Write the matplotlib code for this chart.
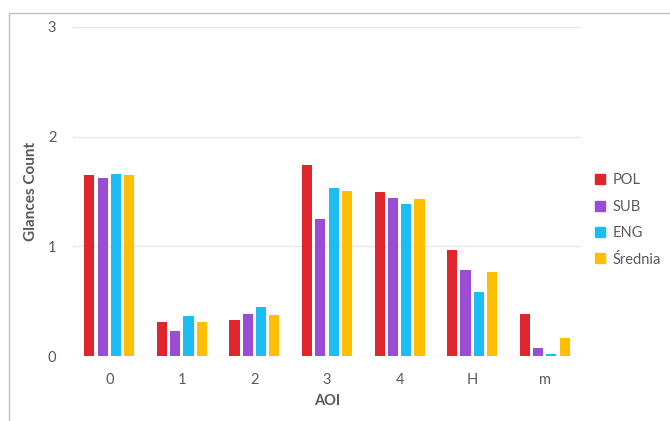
import matplotlib
matplotlib.use("Agg")
import matplotlib.pyplot as plt
import numpy as np
from matplotlib.lines import Line2D
from matplotlib.patches import Rectangle

plt.rcParams['font.family'] = ['Lato', 'DejaVu Sans']

# Glance counts per area of interest
categories = ["0", "1", "2", "3", "4", "H", "m"]
pol = [1.65, 0.31, 0.325, 1.74, 1.495, 0.97, 0.386]
sub = [1.625, 0.225, 0.38, 1.246, 1.437, 0.78, 0.076]
eng = [1.66, 0.365, 0.45, 1.535, 1.39, 0.583, 0.02]
srednia = [1.647, 0.307, 0.377, 1.507, 1.434, 0.77, 0.167]

series_names = ["POL", "SUB", "ENG", "Średnia"]
series_values = [pol, sub, eng, srednia]
colors = ["#E0252C", "#9A4DD3", "#1BBDF4", "#FFBE00"]
y_ticks = [0, 1, 2, 3]

text_color = "#595959"

fig = plt.figure(figsize=(6.7, 4.21), dpi=100)
ax = fig.add_axes([73 / 670, 1 - 356 / 421, (581 - 73) / 670, (356 - 27) / 421])

x = np.arange(len(categories))
pitch = 0.183
width = 0.14
for j, (name, vals, col) in enumerate(zip(series_names, series_values, colors)):
    ax.bar(x + (j - 1.5) * pitch, vals, width=width, color=col, label=name, zorder=3)

ax.set_xlim(-0.5, len(categories) - 0.5)
ax.set_ylim(0, 3)
ax.set_yticks(y_ticks)
ax.set_yticklabels([str(t) for t in y_ticks])
ax.set_xticks(x)
ax.set_xticklabels(categories)
ax.grid(axis="y", color="#E6E6E6", linewidth=1, zorder=0)
for s in ax.spines.values():
    s.set_visible(False)
ax.tick_params(axis="both", length=0, colors=text_color, labelsize=10.5)
ax.tick_params(axis="y", pad=12)
ax.tick_params(axis="x", pad=12)

ax.set_xlabel("AOI", fontsize=10.5, fontweight="bold", color=text_color, labelpad=5)
ax.set_ylabel("Glances Count", fontsize=11, fontweight="bold", color=text_color, labelpad=7)

handles = [Line2D([0], [0], marker="s", linestyle="none", markersize=7,
                  markerfacecolor=c, markeredgecolor=c) for c in colors]
fig.legend(handles, series_names, loc="center left",
           bbox_to_anchor=(594 / 670, 1 - 220 / 421), bbox_transform=fig.transFigure,
           frameon=False, fontsize=10.5, labelcolor=text_color, handlelength=0.8,
           handletextpad=0.5, labelspacing=0.85, borderpad=0, borderaxespad=0)

# outer chart-area border
fig.patches.append(Rectangle((9 / 670, -0.05), 1.2, 1 - 12.5 / 421 + 0.05,
                             transform=fig.transFigure, fill=False,
                             edgecolor="#BFBFBF", linewidth=1))

fig.savefig("out.png", dpi=100)
